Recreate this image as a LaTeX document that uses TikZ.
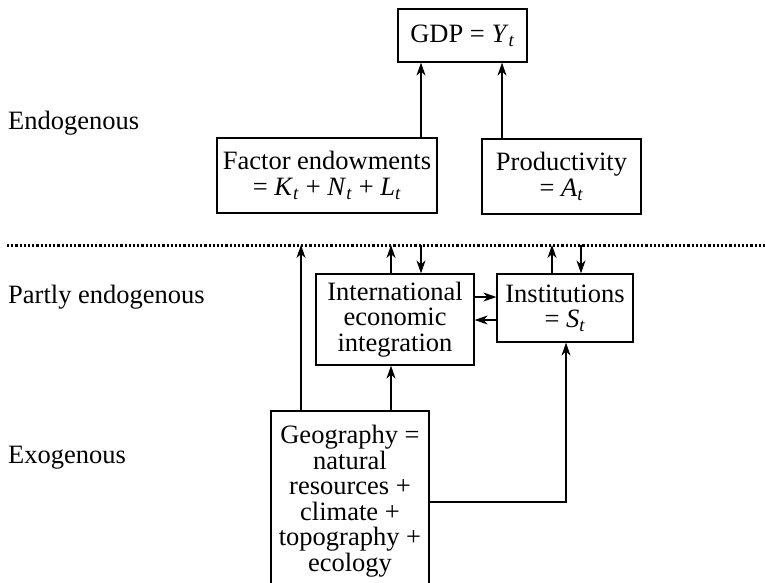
\documentclass[tikz,border=0pt]{standalone}
\usepackage{fontspec}
\setmainfont{Liberation Serif}
\usetikzlibrary{arrows.meta}
\newcommand{\vsub}[2]{\textit{#1}\textsubscript{\textit{#2}}}
\begin{document}
\begin{tikzpicture}[x=1pt,y=-1pt,
  every node/.style={font=\fontsize{26.5}{25.5}\selectfont, inner sep=0pt},
  box/.style={draw, line width=1.2pt, align=center},
  lbl/.style={anchor=west},
  arr/.style={line width=1.2pt, -{Stealth[length=13pt,width=9pt,inset=4pt]}},
  dots/.style={line width=3pt, dash pattern=on 2.2pt off 2pt}
]
\useasboundingbox (0,0) rectangle (765,582);
% labels
\node[lbl] (endo) at (8,123) {Endogenous};
\node[lbl] (partly) at (8,297) {Partly endogenous};
\node[lbl] (exo) at (8,458) {Exogenous};
% boxes
\node[box, minimum width=129pt, minimum height=53pt] (gdp) at (462.5,35.5) {GDP = \vsub{Y}{t}};
\node[box, minimum width=220pt, minimum height=75pt] (fac) at (327,175.5) {Factor endowments\\= \vsub{K}{t} + \vsub{N}{t} + \vsub{L}{t}};
\node[box, minimum width=159pt, minimum height=75pt] (prod) at (561.5,176.5) {Productivity\\= \vsub{A}{t}};
\node[box, minimum width=158pt, minimum height=91pt] (intl) at (395,319.5) {International\\economic\\integration};
\node[box, minimum width=136pt, minimum height=68pt] (inst) at (565,308) {Institutions\\= \vsub{S}{t}};
\node[box, minimum width=158pt, minimum height=180pt] (geo) at (350,501) {Geography =\\natural\\resources +\\climate +\\topography +\\ecology};
% dotted line
\coordinate (dl) at (7,245);
\coordinate (dr) at (765,245);
\draw[dots] (dl) -- (dr);
% x positions
\coordinate (xa) at (421,0);
\coordinate (xb) at (502,0);
\coordinate (xc) at (301,245);
\coordinate (xd) at (391,245);
\coordinate (xe) at (421,245);
\coordinate (xf) at (552,245);
\coordinate (xg) at (581,245);
\coordinate (xh) at (566,502);
\coordinate (yi) at (0,297);
\coordinate (yj) at (0,320);
% arrows to GDP
\draw[arr] (xa |- fac.north) -- (xa |- gdp.south);
\draw[arr] (xb |- prod.north) -- (xb |- gdp.south);
% geography arrows
\draw[arr] (xc |- geo.north) -- (xc);
\draw[arr] (xd |- geo.north) -- (xd |- intl.south);
\draw[arr] (geo.east |- xh) -- (xh) -- (xh |- inst.south);
% intl / inst to dotted line
\draw[arr] (xd |- intl.north) -- (xd);
\draw[arr] (xe) -- (xe |- intl.north);
\draw[arr] (xf |- inst.north) -- (xf);
\draw[arr] (xg) -- (xg |- inst.north);
% between intl and inst
\draw[arr] (intl.east |- yi) -- (inst.west |- yi);
\draw[arr] (inst.west |- yj) -- (intl.east |- yj);
\end{tikzpicture}
\end{document}
